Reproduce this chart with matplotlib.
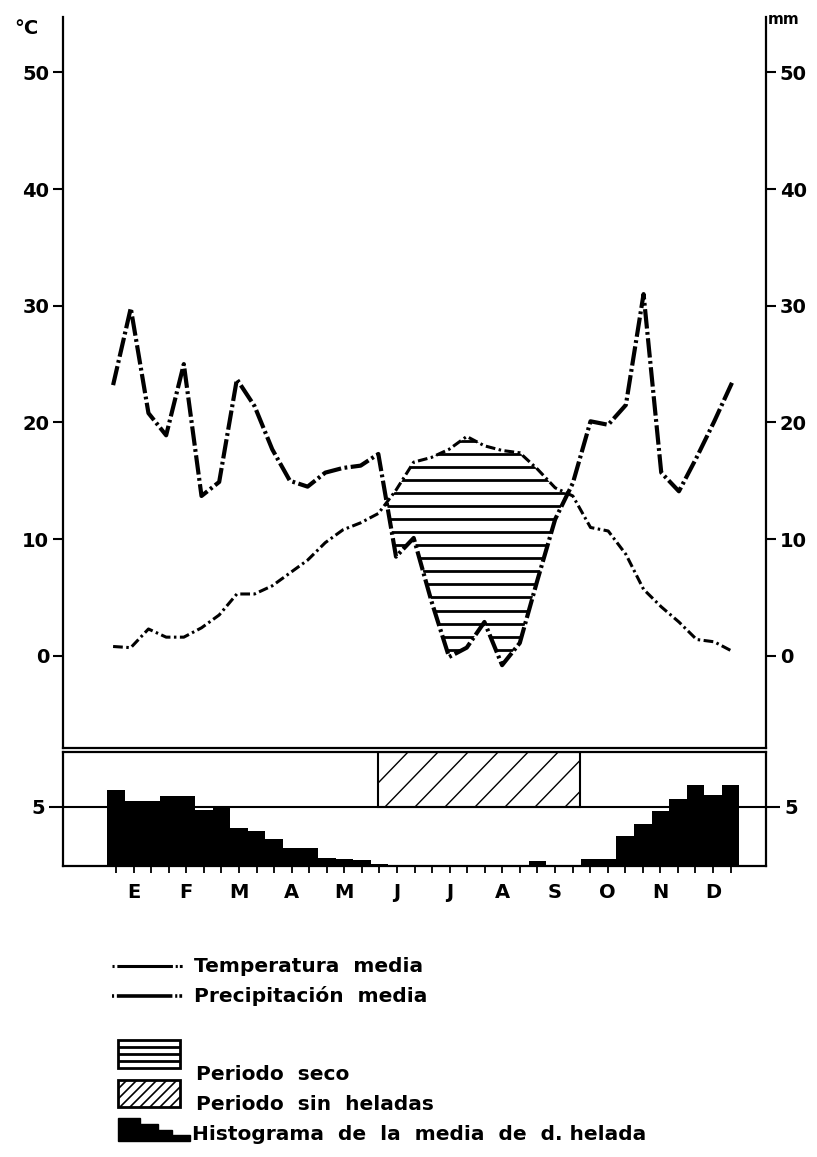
import matplotlib
matplotlib.use("Agg")
import matplotlib.pyplot as plt
import matplotlib.patches as mpatches
import numpy as np

plt.rcParams['font.family'] = ['DejaVu Sans']
plt.rcParams['font.weight'] = 'bold'
plt.rcParams['lines.scale_dashes'] = False

# datos por decenas (3 por mes, 36 en total)
precipitacion = [23.2, 29.8, 20.8, 18.9, 25.0, 13.7, 14.9, 23.7, 21.4, 17.7, 15.0, 14.5,
                 15.7, 16.1, 16.3, 17.3, 8.5, 10.1, 4.7, -0.1, 0.7, 2.9, -0.8, 1.1,
                 6.5, 11.7, 14.8, 20.1, 19.8, 21.5, 31.0, 15.7, 14.1, 17.0, 20.1, 23.4]
temperatura = [0.8, 0.7, 2.3, 1.6, 1.6, 2.4, 3.5, 5.3, 5.3, 6.0, 7.1, 8.2,
               9.7, 10.8, 11.4, 12.2, 14.2, 16.6, 17.0, 17.7, 18.8, 18.0, 17.6, 17.4,
               16.0, 14.4, 13.7, 11.0, 10.7, 8.7, 5.7, 4.2, 2.9, 1.4, 1.2, 0.4]
dias_helada = [6.4, 5.5, 5.5, 5.9, 5.9, 4.7, 4.9, 3.2, 2.9, 2.3, 1.5, 1.5,
               0.65, 0.6, 0.5, 0.15, 0, 0, 0, 0, 0, 0, 0, 0,
               0.4, 0, 0, 0.6, 0.6, 2.5, 3.5, 4.6, 5.6, 6.8, 6.0, 6.8]
meses = ['E', 'F', 'M', 'A', 'M', 'J', 'J', 'A', 'S', 'O', 'N', 'D']
sin_heladas = (5.14, 8.97)   # en meses
T_media = '11,7'
P_total = '644,7'

W, H = 817, 1157
fig = plt.figure(figsize=(W / 100, H / 100), dpi=100)

def caja(x0, y0, x1, y1):
    # pixeles -> fracciones de figura
    return [x0 / W, 1 - y1 / H, (x1 - x0) / W, (y1 - y0) / H]

# capa para textos y leyenda en pixeles
lay = fig.add_axes([0, 0, 1, 1])
lay.set_xlim(0, W)
lay.set_ylim(H, 0)
lay.axis('off')

ax = fig.add_axes(caja(63, 17, 766, 748))
axh = fig.add_axes(caja(63, 752, 766, 866))

xlim = (-0.841, 12.506)
x = np.linspace(0.11, 11.86, len(temperatura))
P = np.array(precipitacion)
T = np.array(temperatura)

# ---- diagrama superior ----
ax.set_xlim(*xlim)
ax.set_ylim(-7.9, 54.75)
ax.plot(x, P, color='black', lw=3.0, linestyle=(0, (14, 2.5, 2, 2.5)))
ax.plot(x, T, color='black', lw=2.2, linestyle=(0, (7, 2.5, 1.8, 2.5)))

# periodo seco: rayado horizontal donde T > P
seco = ax.fill_between(x, P, T, where=T > P, interpolate=True,
                       facecolor='none', edgecolor='none')
rayas = ax.hlines(np.arange(-0.6, 19.5, 1.12), 0, 12, colors='black', lw=2.0)
rayas.set_clip_path(seco.get_paths()[0], ax.transData)

ax.spines['top'].set_visible(False)
for s in ['left', 'right', 'bottom']:
    ax.spines[s].set_linewidth(1.6)
ax.set_xticks([])
ax.set_yticks([0, 10, 20, 30, 40, 50])
ax.tick_params(axis='y', left=True, right=True, labelleft=True, labelright=True,
               direction='out', length=7, width=1.5, labelsize=14, pad=3)

# ---- histograma de heladas ----
axh.set_xlim(*xlim)
axh.set_ylim(0, 9.58)
bordes = np.arange(len(dias_helada)) / 3
axh.bar(bordes, dias_helada, width=1 / 3, align='edge', color='black', zorder=3)
axh.axhline(5, color='black', lw=1.5, zorder=1)

rect = mpatches.Rectangle((sin_heladas[0], 5), sin_heladas[1] - sin_heladas[0], 4.58,
                          fill=False, edgecolor='black', lw=1.5, zorder=2)
axh.add_patch(rect)
for x0 in np.arange(sin_heladas[0] - 1.0, sin_heladas[1], 0.57):
    l, = axh.plot([x0, x0 + 1.0], [5, 9.58], color='black', lw=1.0, zorder=2)
    l.set_clip_path(rect)

for s in ['left', 'right', 'bottom', 'top']:
    axh.spines[s].set_linewidth(1.6)
axh.set_yticks([5])
axh.tick_params(axis='y', left=True, right=True, labelleft=True, labelright=True,
                direction='out', length=10, width=1.5, labelsize=14, pad=3)
axh.set_xticks(np.arange(12) + 0.5)
axh.set_xticklabels(meses)
axh.set_xticks((np.arange(36) + 0.5) / 3, minor=True)
axh.tick_params(axis='x', which='both', direction='out', length=5, width=1.3,
                labelsize=14, pad=7)

# ---- textos ----
lay.text(14, 28, '°C', fontsize=14, va='center')
lay.text(768, 20, 'mm', fontsize=11, va='center')
lay.text(655, 50, r'$\bar{\mathbf{T}}$ : ' + T_media, fontsize=12, va='center')
lay.text(655, 76, 'P : ' + P_total, fontsize=12, va='center')

# ---- leyenda ----
lay.plot([112, 190], [966, 966], color='black', lw=2.2, linestyle=(0, (1.5, 2, 40, 2, 1.5)))
lay.plot([112, 190], [996, 996], color='black', lw=2.6, linestyle=(0, (1.5, 2, 40, 2, 1.5)))
lay.text(194, 966, 'Temperatura  media', fontsize=14.5, va='center')
lay.text(194, 996, 'Precipitación  media', fontsize=14.5, va='center')

lay.add_patch(mpatches.Rectangle((118, 1040), 62, 28, fill=False, edgecolor='black', lw=2))
lay.hlines([1047, 1054, 1061], 118, 180, colors='black', lw=2)
lay.text(196, 1074, 'Periodo  seco', fontsize=14.5, va='center')

caja_d = mpatches.Rectangle((118, 1080), 62, 27, fill=False, edgecolor='black', lw=2)
lay.add_patch(caja_d)
for x0 in np.arange(100, 190, 10):
    l, = lay.plot([x0, x0 + 27], [1107, 1080], color='black', lw=1.2)
    l.set_clip_path(caja_d)
lay.text(196, 1104, 'Periodo  sin  heladas', fontsize=14.5, va='center')

escalera = [(118, 1141), (118, 1118), (140, 1118), (140, 1124), (158, 1124),
            (158, 1130), (172, 1130), (172, 1135), (190, 1135), (190, 1141)]
lay.add_patch(mpatches.Polygon(escalera, closed=True, color='black'))
lay.text(192, 1134, 'Histograma  de  la  media  de  d. helada', fontsize=14.5, va='center')

fig.savefig('out.png', dpi=100)
